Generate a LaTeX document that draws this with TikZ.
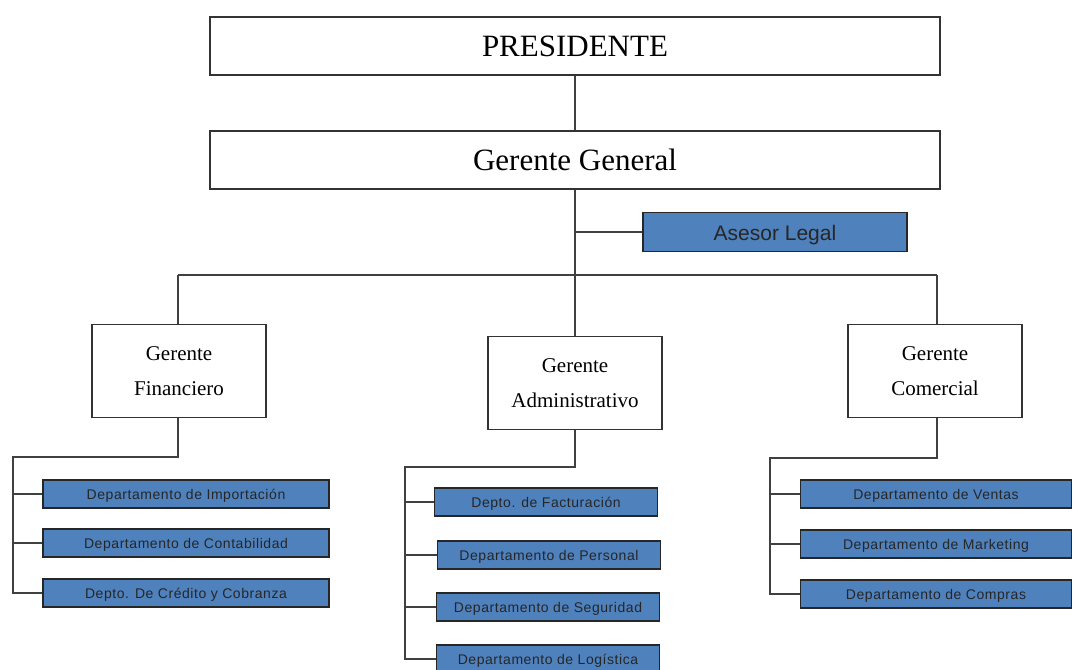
\documentclass[tikz,border=0pt]{standalone}
\usepackage{fontspec}
\setmainfont{Liberation Serif}
\setsansfont{Liberation Sans}
\newfontfamily\deptfont{Liberation Sans}[LetterSpace=4]
\usetikzlibrary{positioning}
\definecolor{deptblue}{HTML}{4F81BD}
\tikzset{
  link/.style={draw=black!75, line width=1.2pt},
  top box/.style={draw=black!80, line width=1.2pt, fill=white, minimum width=730pt,
    minimum height=58pt, inner sep=0pt, font=\fontsize{31}{33}\selectfont},
  manager/.style={draw=black!80, line width=1.2pt, fill=white, minimum width=174pt,
    minimum height=93pt, inner sep=0pt, align=center, text depth=0pt,
    font=\fontsize{21}{35}\selectfont},
  dept/.style={draw=black!85, line width=1.2pt, fill=deptblue, text=black!85,
    minimum height=28pt, inner sep=0pt, text height=11pt, text depth=1pt,
    font=\deptfont\fontsize{14}{15}\selectfont},
  advisor/.style={dept, minimum width=264pt, minimum height=39pt,
    text height=17pt, text depth=1pt,
    font=\sffamily\fontsize{21}{22}\selectfont},
}

\begin{document}
\begin{tikzpicture}[x=1pt, y=-1pt]
  \useasboundingbox (0,0) rectangle (1078,669);

  % Top: president, general manager and legal advisor
  \node[top box] (pres) at (575,46) {PRESIDENTE};
  \node[top box] (gg) at (575,160) {Gerente General};
  \node[advisor] (asesor) at (775,232) {Asesor Legal};
  \coordinate (bus left) at (178,275);
  \coordinate (bus right) at (937,275);

  % Middle: the three managers
  \node[manager] (fin) at (179,371) {Gerente\\Financiero};
  \node[manager] (adm) at (575,383) {Gerente\\Administrativo};
  \node[manager] (com) at (935,371) {Gerente\\Comercial};

  % Bottom left: finance departments
  \node[dept, minimum width=286pt] (imp) at (186,494) {Departamento de Importación};
  \node[dept, minimum width=286pt] (cont) at (186,543) {Departamento de Contabilidad};
  \node[dept, minimum width=286pt] (cred) at (186,593) {Depto. De Crédito y Cobranza};
  \coordinate (fin corner) at (13,457);

  % Bottom middle: administration departments
  \node[dept, minimum width=223pt] (fact) at (546,502) {Depto. de Facturación};
  \node[dept, minimum width=223pt] (pers) at (549,555) {Departamento de Personal};
  \node[dept, minimum width=223pt] (seg) at (548,607) {Departamento de Seguridad};
  \node[dept, minimum width=223pt] (log) at (548,659) {Departamento de Logística};
  \coordinate (adm corner) at (405,467);

  % Bottom right: commercial departments
  \node[dept, minimum width=271pt] (vent) at (936,494) {Departamento de Ventas};
  \node[dept, minimum width=271pt] (mark) at (936,544) {Departamento de Marketing};
  \node[dept, minimum width=271pt] (comp) at (936,594) {Departamento de Compras};
  \coordinate (com corner) at (770,458);

  % Connectors
  \draw[link] (pres) -- (gg);
  \draw[link] (gg.south) -- (adm.north);
  \draw[link] (asesor.west -| gg.south) -- (asesor.west);
  \draw[link] (bus left) -- (bus right);
  \draw[link] (bus left) -- (fin.north -| bus left);
  \draw[link] (bus right) -- (com.north -| bus right);

  \draw[link] (fin.south -| bus left) |- (fin corner) |- (cred.west);
  \foreach \n in {imp,cont}
    \draw[link] (fin corner |- \n.west) -- (\n.west);

  \draw[link] (adm.south) |- (adm corner) |- (log.west);
  \foreach \n in {fact,pers,seg}
    \draw[link] (adm corner |- \n.west) -- (\n.west);

  \draw[link] (com.south -| bus right) |- (com corner) |- (comp.west);
  \foreach \n in {vent,mark}
    \draw[link] (com corner |- \n.west) -- (\n.west);
\end{tikzpicture}
\end{document}
